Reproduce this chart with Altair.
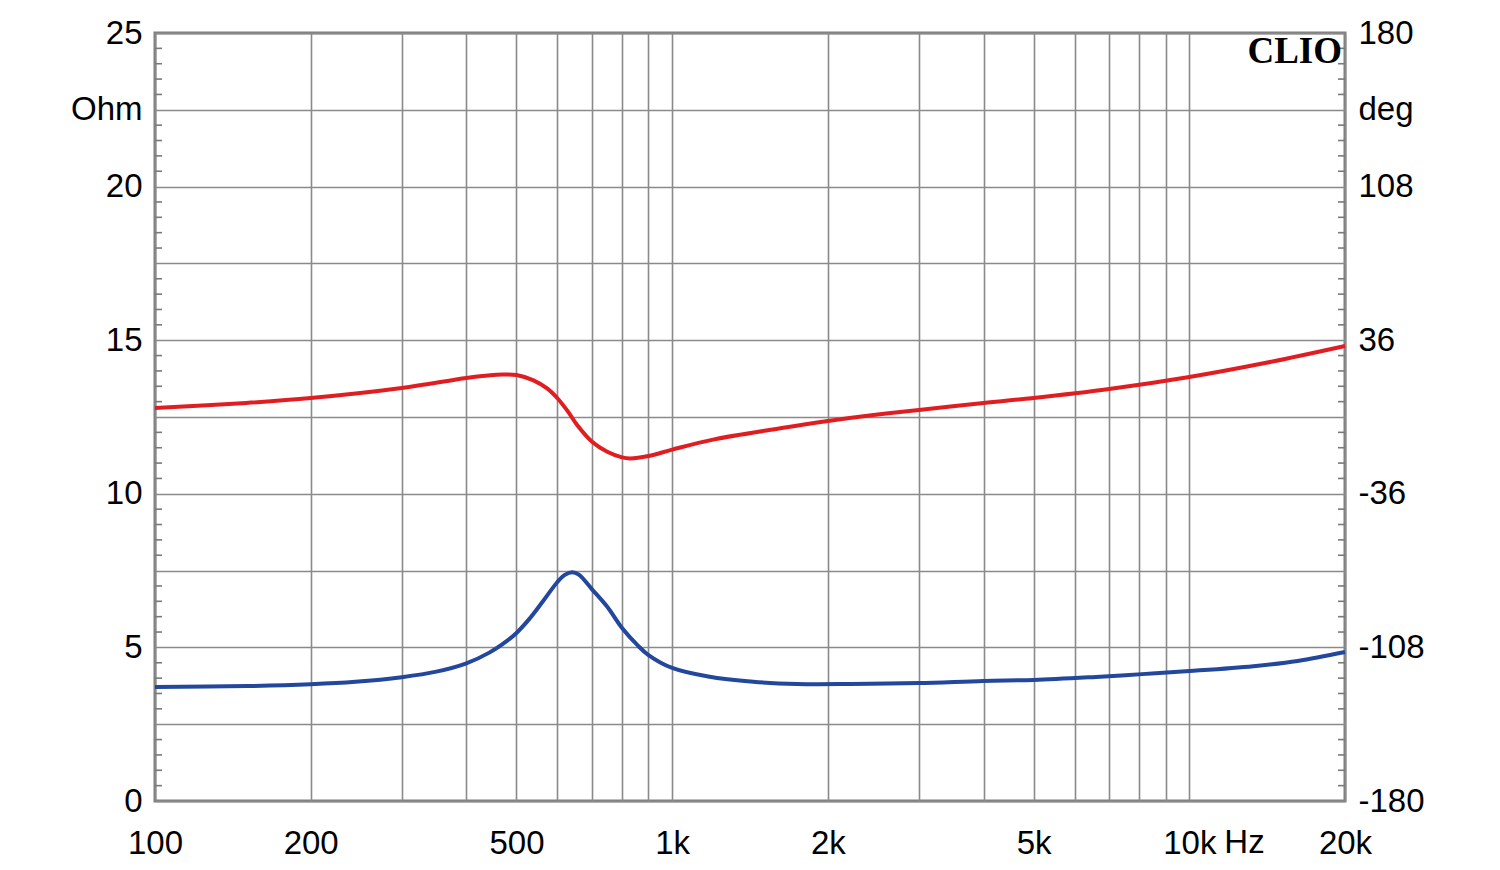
import altair as alt
import pandas as pd

# ---- data ----
# impedance magnitude (blue, Ohm, left axis)
blue_f = [100, 151, 200, 244, 300, 350, 400, 443, 480, 500, 529, 563, 600, 620, 641, 660, 700, 749, 800, 856, 900,
          1000, 1174, 1435, 1745, 2210, 3000, 4000, 5000, 6600, 8100, 10000, 13300, 16200, 20000]
blue_ohm = [3.71, 3.74, 3.80, 3.88, 4.03, 4.21, 4.48, 4.83, 5.22, 5.47, 5.92, 6.51, 7.13, 7.36, 7.45, 7.37, 6.89, 6.32, 5.63, 5.08, 4.75,
            4.33, 4.05, 3.88, 3.81, 3.81, 3.84, 3.91, 3.94, 4.04, 4.13, 4.23, 4.39, 4.56, 4.85]

# impedance phase (red, deg, right axis)
red_f = [100, 150, 200, 300, 400, 445, 470, 500, 538, 573, 600, 629, 655, 700, 749, 800, 829, 900,
         1000, 1200, 1618, 2000, 2450, 3000, 4000, 5000, 7000, 10000, 14000, 20000]
red_deg = [4.2, 6.6, 8.9, 13.6, 18.3, 19.6, 19.9, 19.7, 17.3, 13.4, 8.8, 2.5, -3.75, -11.6, -16.3, -18.9, -19.4, -18.3,
           -15.3, -10.6, -5.3, -1.9, 0.9, 3.3, 6.6, 8.9, 13.1, 18.75, 25.3, 33.3]

# axes
x_grid = [100, 200, 300, 400, 500, 600, 700, 800, 900,
          1000, 2000, 3000, 4000, 5000, 6000, 7000, 8000, 9000, 10000, 20000]
x_label_vals = [100, 200, 500, 1000, 2000, 5000, 10000, 20000]
x_label_txt = ["100", "200", "500", "1k", "2k", "5k", "10k", "20k"]

ohm_grid = [0, 2.5, 5, 7.5, 10, 12.5, 15, 17.5, 20, 22.5, 25]
ohm_labels = [0, 5, 10, 15, 20, 25]
ohm_minor = [0.5, 1, 1.5, 2, 3, 3.5, 4, 4.5, 5.5, 6, 6.5, 7, 8, 8.5, 9, 9.5,
             10.5, 11, 11.5, 12, 13, 13.5, 14, 14.5, 15.5, 16, 16.5, 17, 18, 18.5, 19, 19.5,
             20.5, 21, 21.5, 22, 23, 23.5, 24, 24.5]
deg_ticks = [-180, -144, -108, -72, -36, 0, 36, 72, 108, 144, 180]
deg_labels = [-180, -108, -36, 36, 108, 180]

W, H = 1190, 768
FONT = "Liberation Sans"
FS = 33
GRID = "#8a8a8a"

# ---- expressions ----
x_expr = "".join(
    f"datum.value == {v} ? '{t}' : " for v, t in zip(x_label_vals, x_label_txt)
) + "''"
ohm_expr = ("datum.value == 22.5 ? 'Ohm' : (indexof(" + str(ohm_labels) +
            ", datum.value) >= 0 ? '' + datum.value : '')")
deg_expr = ("datum.value == 144 ? 'deg' : (indexof(" + str(deg_labels) +
            ", datum.value) >= 0 ? '' + datum.value : '')")

x_axis = alt.Axis(values=x_grid, labelExpr=x_expr, grid=True, gridColor=GRID, gridWidth=1.6,
                  domain=False, ticks=False, tickSize=0, labelPadding=26, labelFont=FONT,
                  labelFontSize=FS, labelColor="#000000", labelOverlap=False, labelFlush=False,
                  labelBound=False, title=None)
x_enc = alt.X("f:Q", scale=alt.Scale(type="log", domain=[100, 20000], nice=False), axis=x_axis)

ohm_axis = alt.Axis(values=ohm_grid, labelExpr=ohm_expr, grid=True, gridColor=GRID, gridWidth=1.6,
                    domain=False, ticks=False, tickSize=0, labelPadding=13, labelFont=FONT,
                    labelFontSize=FS, labelColor="#000000", labelOverlap=False, labelFlush=False,
                    labelBound=False, title=None)
ohm_scale = alt.Scale(domain=[0, 25], nice=False, zero=False)

deg_axis = alt.Axis(orient="right", values=deg_ticks, labelExpr=deg_expr, grid=False,
                    domain=False, ticks=False, tickSize=0, labelPadding=13, labelFont=FONT,
                    labelFontSize=FS, labelColor="#000000", labelOverlap=False, labelFlush=False,
                    labelBound=False, title=None)
deg_scale = alt.Scale(domain=[-180, 180], nice=False, zero=False)

# ---- layers ----
blue_df = pd.DataFrame({"f": blue_f, "ohm": blue_ohm})
red_df = pd.DataFrame({"f": red_f, "deg": red_deg})
minor_df = pd.DataFrame({"ohm": ohm_minor})

blue_line = alt.Chart(blue_df).mark_line(color="#22479c", strokeWidth=4, interpolate="catmull-rom").encode(
    x=x_enc, y=alt.Y("ohm:Q", scale=ohm_scale, axis=ohm_axis))

minor_left = alt.Chart(minor_df).mark_rule(color="#7a7a7a", strokeWidth=1.6).encode(
    y=alt.Y("ohm:Q", scale=ohm_scale, axis=ohm_axis), x=alt.value(0), x2=alt.value(7))
minor_right = alt.Chart(minor_df).mark_rule(color="#7a7a7a", strokeWidth=1.6).encode(
    y=alt.Y("ohm:Q", scale=ohm_scale, axis=ohm_axis), x=alt.value(W - 7), x2=alt.value(W))

hz_df = pd.DataFrame({"f": [10000], "t": ["Hz"]})
hz_text = alt.Chart(hz_df).mark_text(align="left", baseline="top", dx=35, font=FONT,
                                     fontSize=FS, color="#000000").encode(
    x=x_enc, y=alt.value(H + 26), text="t:N")

clio_df = pd.DataFrame({"t": ["CLIO"]})
clio_text = alt.Chart(clio_df).mark_text(align="right", baseline="alphabetic", font="Liberation Serif",
                                         fontWeight="bold", fontSize=37, color="#000000").encode(
    x=alt.value(W - 3), y=alt.value(30), text="t:N")

left = alt.layer(minor_left, minor_right, blue_line, hz_text, clio_text)

red_line = alt.Chart(red_df).mark_line(color="#e01e22", strokeWidth=4, interpolate="catmull-rom").encode(
    x=x_enc, y=alt.Y("deg:Q", scale=deg_scale, axis=deg_axis))

chart = alt.layer(left, red_line).resolve_scale(y="independent").properties(
    width=W, height=H,
    autosize=alt.AutoSizeParams(type="none"),
    padding={"left": 155, "top": 33, "right": 155, "bottom": 69},
    background="white",
).configure_view(stroke="#7f7f7f", strokeWidth=3)

chart.save("out.html", embed_options={"renderer": "svg", "actions": False})
